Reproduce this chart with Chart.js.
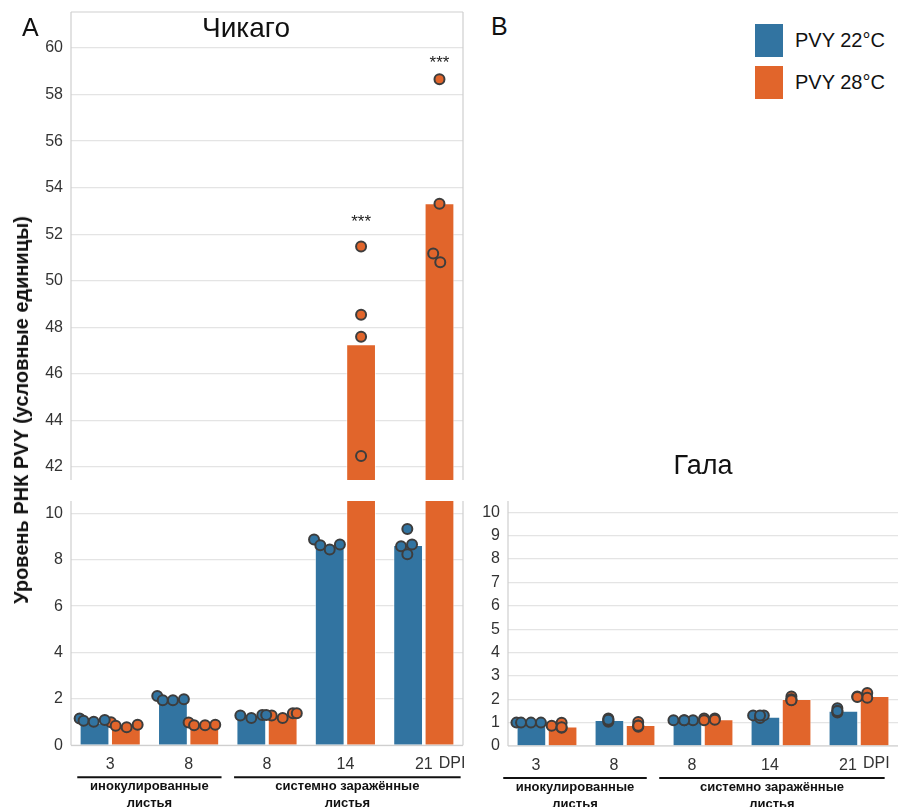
<!DOCTYPE html>
<html>
<head>
<meta charset="utf-8">
<script src="https://cdn.jsdelivr.net/npm/chart.js"></script>
<style>
  body { margin: 0; background: #fff; width: 898px; height: 807px; overflow: hidden; position: relative;
         font-family: "Liberation Sans", Arial, sans-serif; color: #111; }
  .box { position: absolute; }
  .txt { position: absolute; line-height: 1; white-space: nowrap; }
</style>
</head>
<body>
<div class="box" style="left:0;top:0;width:470px;height:480px"><canvas id="chicagoTop"></canvas></div>
<div class="box" style="left:0;top:0;width:470px;height:480px"><canvas id="chicagoTopPts"></canvas></div>
<div class="box" style="left:0;top:480px;width:470px;height:327px"><canvas id="chicagoLow"></canvas></div>
<div class="box" style="left:0;top:480px;width:470px;height:327px"><canvas id="chicagoLowPts"></canvas></div>
<div class="box" style="left:470px;top:430px;width:428px;height:377px"><canvas id="gala"></canvas></div>
<div class="box" style="left:470px;top:430px;width:428px;height:377px"><canvas id="galaPts"></canvas></div>

<div class="txt" style="left:22px;top:15px;font-size:25px">A</div>
<div class="txt" style="left:491px;top:14px;font-size:25px">B</div>
<div class="txt" style="left:246px;top:14px;font-size:28px;transform:translateX(-50%)">Чикаго</div>
<div class="txt" style="left:703px;top:452px;font-size:27px;transform:translateX(-50%)">Гала</div>
<div class="txt" style="left:21px;top:410px;font-size:20px;font-weight:bold;transform:translate(-50%,-50%) rotate(-90deg)">Уровень РНК PVY (условные единицы)</div>

<div class="box" style="left:755px;top:24px;width:28px;height:33px;background:#3274a1"></div>
<div class="box" style="left:755px;top:66px;width:28px;height:33px;background:#e1652b"></div>
<div class="txt" id="leg22" style="left:795px;top:30px;font-size:20px"></div>
<div class="txt" id="leg28" style="left:795px;top:72px;font-size:20px"></div>

<script>
const dpi = ['3', '8', '8', '14', '21'];
const seriesNames = ['PVY 22°C', 'PVY 28°C'];
const leafGroups = [[0, 1], [2, 4]];
const leafNames = [['инокулированные', 'листья'], ['системно заражённые', 'листья']];

const topTicks = [42, 44, 46, 48, 50, 52, 54, 56, 58, 60];
const lowTicks = [0, 2, 4, 6, 8, 10];
const galaTicks = [0, 1, 2, 3, 4, 5, 6, 7, 8, 9, 10];

// Чикаго
const chicago22 = [0.97, 2.00, 1.27, 8.65, 8.63];
const chicago28 = [0.83, 0.90, 1.30, 47.27, 53.33];
const chicago22Reps = [[1.16, 1.06, 1.02, 1.09], [2.12, 1.94, 1.94, 1.98], [1.28, 1.18, 1.31, 1.31], [8.87, 8.62, 8.44, 8.66], [8.58, 9.32, 8.66, 8.23]];
const chicago22Jit = [[-0.39, -0.34, -0.21, -0.07], [-0.40, -0.33, -0.20, -0.06], [-0.34, -0.20, -0.06, -0.01], [-0.40, -0.32, -0.20, -0.07], [-0.29, -0.21, -0.15, -0.21]];
const chicago28Reps = [[0.99, 0.84, 0.78, 0.89], [0.98, 0.86, 0.86, 0.89], [1.28, 1.18, 1.38, 1.38], [51.32, 48.34, 47.38, 42.17], [58.61, 53.18, 51.01, 50.63]];
const chicago28Jit = [[0.01, 0.07, 0.21, 0.35], [0.00, 0.07, 0.21, 0.34], [0.06, 0.20, 0.33, 0.38], [0.20, 0.20, 0.20, 0.20], [0.20, 0.20, 0.12, 0.21]];
const chicagoSigGroup = [3, 4];
const chicagoSigY = [52.7, 59.5];
const chicagoSigText = ['***', '***'];

// Гала
const gala22 = [1.01, 1.11, 1.10, 1.25, 1.51];
const gala28 = [0.83, 0.90, 1.14, 2.01, 2.14];
const gala22Reps = [[1.0, 1.0, 1.0, 1.0], [1.18, 1.04, 1.10, 1.12], [1.10, 1.10, 1.10, 1.10], [1.31, 1.20, 1.31, 1.31], [1.62, 1.43, 1.50, 1.50]];
const gala22Jit = [[-0.39, -0.33, -0.20, -0.07], [-0.19, -0.19, -0.19, -0.19], [-0.34, -0.20, -0.085, -0.20], [-0.30, -0.21, -0.16, -0.21], [-0.20, -0.20, -0.20, -0.20]];
const gala28Reps = [[0.87, 0.99, 0.78, 0.80], [1.03, 0.82, 0.88, 0.87], [1.18, 1.18, 1.12, 1.10], [2.12, 1.97, 2.00, 1.96], [2.12, 2.27, 2.06, 2.10]];
const gala28Jit = [[0.07, 0.20, 0.20, 0.20], [0.20, 0.20, 0.20, 0.20], [0.06, 0.20, 0.20, 0.06], [0.20, 0.20, 0.20, 0.20], [0.06, 0.19, 0.19, 0.06]];

const blue = '#3274a1';
const orange = '#e1652b';
const tickColor = '#333';

document.getElementById('leg22').textContent = seriesNames[0];
document.getElementById('leg28').textContent = seriesNames[1];

function points(reps, jit) {
  const out = [];
  reps.forEach((vals, g) => vals.forEach((v, k) => out.push({ x: g + jit[g][k], y: v })));
  return out;
}

// spines, stars, DPI and the leaf brackets under the axis
const extras = {
  id: 'extras',
  afterDraw(chart, args, o) {
    const { ctx, chartArea: a } = chart;
    const xp = chart.scales.xp, y = chart.scales.y;
    ctx.save();
    ctx.strokeStyle = '#cfcfcf';
    ctx.lineWidth = 1.2;
    ctx.beginPath();
    if (o.left) { ctx.moveTo(a.left, a.top); ctx.lineTo(a.left, a.bottom); }
    if (o.right) { ctx.moveTo(a.right, a.top); ctx.lineTo(a.right, a.bottom); }
    if (o.top) { ctx.moveTo(a.left, a.top); ctx.lineTo(a.right, a.top); }
    if (o.bottom) { ctx.moveTo(a.left, a.bottom); ctx.lineTo(a.right, a.bottom); }
    ctx.stroke();

    if (o.sig) {
      ctx.fillStyle = '#222';
      ctx.font = '17px "Liberation Sans", Arial';
      ctx.textAlign = 'center';
      ctx.textBaseline = 'middle';
      o.sig.groups.forEach((g, i) => {
        ctx.fillText(o.sig.text[i], xp.getPixelForValue(g + 0.2), y.getPixelForValue(o.sig.y[i]) + 4);
      });
    }

    if (o.brackets) {
      const shift = o.labelOffset || 0;
      ctx.fillStyle = tickColor;
      ctx.font = '16px "Liberation Sans", Arial';
      ctx.textAlign = 'left';
      ctx.textBaseline = 'top';
      ctx.fillText('DPI', xp.getPixelForValue(dpi.length - 1) + shift + 15, a.bottom + 10);

      ctx.strokeStyle = '#111';
      ctx.lineWidth = 2;
      ctx.fillStyle = '#111';
      ctx.font = 'bold 13px "Liberation Sans", Arial';
      ctx.textAlign = 'center';
      ctx.textBaseline = 'middle';
      leafGroups.forEach((gr, i) => {
        const x0 = xp.getPixelForValue(gr[0] - 0.42) + shift;
        const x1 = xp.getPixelForValue(gr[1] + (i ? 0.47 : 0.42)) + shift;
        ctx.beginPath();
        ctx.moveTo(x0, a.bottom + 32);
        ctx.lineTo(x1, a.bottom + 32);
        ctx.stroke();
        const xc = (x0 + x1) / 2;
        ctx.fillText(leafNames[i][0], xc, a.bottom + 41.5);
        ctx.fillText(leafNames[i][1], xc, a.bottom + 58);
      });
    }
    ctx.restore();
  }
};

function yScale(o, visible) {
  return {
    min: o.min, max: o.max,
    grid: { display: visible, color: '#e4e4e4', lineWidth: 1.2, drawTicks: false },
    border: { display: false },
    ticks: { color: visible ? tickColor : 'rgba(0,0,0,0)', font: { size: 16 }, padding: 8 },
    afterBuildTicks(s) { s.ticks = o.ticks.map(v => ({ value: v })); },
    afterFit(s) { s.width = o.yWidth; s.paddingTop = 0; s.paddingBottom = 0; }
  };
}

function panel(id, o) {
  // bars
  new Chart(document.getElementById(id), {
    type: 'bar',
    data: {
      labels: dpi,
      datasets: [
        { label: seriesNames[0], data: o.bars22, backgroundColor: blue,
          borderColor: 'rgba(255,255,255,0.6)', borderWidth: 1, categoryPercentage: 0.8, barPercentage: 0.95 },
        { label: seriesNames[1], data: o.bars28, backgroundColor: orange,
          borderColor: 'rgba(255,255,255,0.6)', borderWidth: 1, categoryPercentage: 0.8, barPercentage: 0.95 }
      ]
    },
    options: {
      responsive: true,
      maintainAspectRatio: false,
      animation: false,
      layout: { padding: o.pad },
      plugins: { legend: { display: false }, tooltip: { enabled: false }, extras: o.extras },
      scales: {
        x: {
          display: o.showX,
          grid: { display: false, drawTicks: false },
          border: { display: false },
          ticks: { color: tickColor, font: { size: 16 }, padding: 10, maxRotation: 0, autoSkip: false,
                   labelOffset: o.labelOffset || 0 },
          afterFit(s) { s.height = o.xHeight || 0; s.paddingLeft = 0; s.paddingRight = 0; }
        },
        xp: { type: 'linear', display: false, offset: false, min: -0.5, max: dpi.length - 0.5 },
        y: yScale(o, true)
      }
    },
    plugins: [extras]
  });

  // replicate points, on a transparent chart laid over the bars
  new Chart(document.getElementById(id + 'Pts'), {
    type: 'scatter',
    data: {
      datasets: [
        { label: seriesNames[0], data: points(o.reps22, o.jit22),
          backgroundColor: blue, borderColor: '#3d3d3d', borderWidth: 2, pointRadius: 5 },
        { label: seriesNames[1], data: points(o.reps28, o.jit28),
          backgroundColor: orange, borderColor: '#3d3d3d', borderWidth: 2, pointRadius: 5 }
      ]
    },
    options: {
      responsive: true,
      maintainAspectRatio: false,
      animation: false,
      layout: { padding: Object.assign({}, o.pad, { bottom: o.xHeight || 0 }) },
      plugins: { legend: { display: false }, tooltip: { enabled: false } },
      scales: {
        x: { type: 'linear', display: false, offset: false, min: -0.5, max: dpi.length - 0.5 },
        y: yScale(o, false)
      }
    }
  });
}

panel('chicagoTop', {
  bars22: chicago22, bars28: chicago28,
  reps22: chicago22Reps, jit22: chicago22Jit, reps28: chicago28Reps, jit28: chicago28Jit,
  min: 41.43, max: 61.55, ticks: topTicks, yWidth: 71, showX: false,
  pad: { top: 12, right: 7, left: 0, bottom: 0 },
  extras: { left: true, right: true, top: true,
            sig: { groups: chicagoSigGroup, y: chicagoSigY, text: chicagoSigText } }
});

panel('chicagoLow', {
  bars22: chicago22, bars28: chicago28,
  reps22: chicago22Reps, jit22: chicago22Jit, reps28: chicago28Reps, jit28: chicago28Jit,
  min: 0, max: 10.53, ticks: lowTicks, yWidth: 71, showX: true, xHeight: 61.7,
  pad: { top: 21, right: 7, left: 0, bottom: 0 },
  extras: { left: true, right: true, bottom: true, brackets: true }
});

panel('gala', {
  bars22: gala22, bars28: gala28,
  reps22: gala22Reps, jit22: gala22Jit, reps28: gala28Reps, jit28: gala28Jit,
  min: 0, max: 10.48, ticks: galaTicks, yWidth: 38, showX: true, xHeight: 61,
  labelOffset: -11,
  pad: { top: 71, right: 0, left: 0, bottom: 0 },
  extras: { left: true, bottom: true, brackets: true, labelOffset: -11 }
});
</script>
</body>
</html>
